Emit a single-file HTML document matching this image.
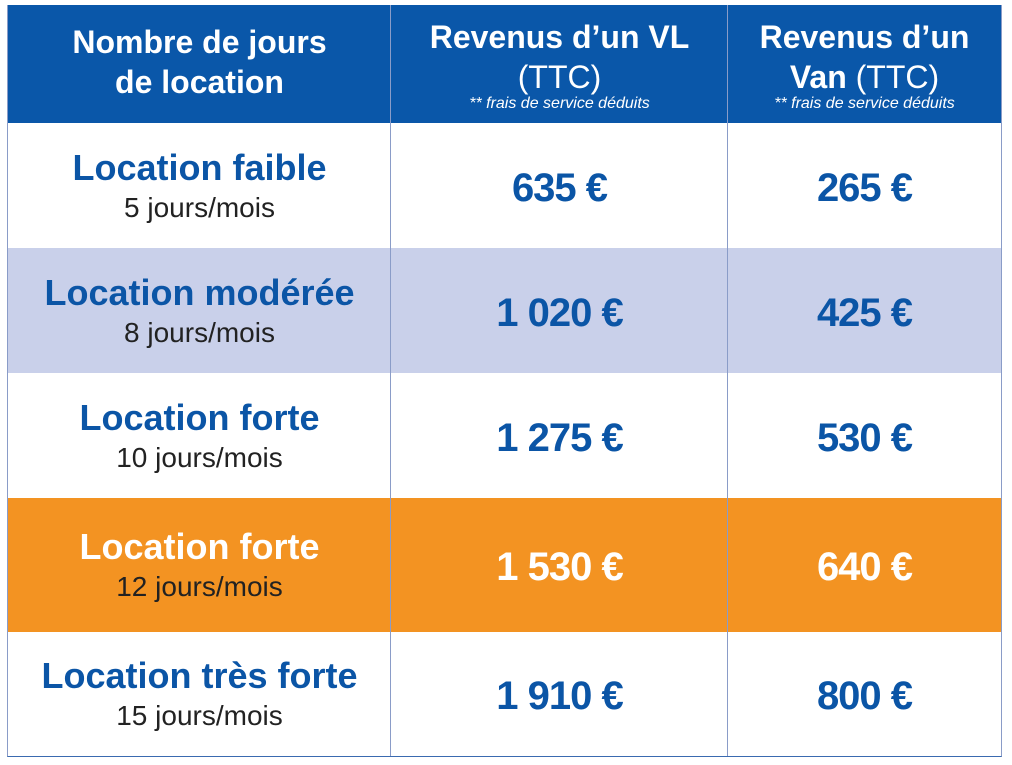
<!DOCTYPE html>
<html><head><meta charset="utf-8"><style>
body{margin:0;width:1012px;height:765px;background:#fff;font-family:"Liberation Sans",sans-serif;overflow:hidden}
.t{position:absolute;left:7px;top:5px;width:995px;height:752px;border-left:1px solid #8a9cc8;border-right:1px solid #8a9cc8;border-bottom:1px solid #3a6ab0;box-sizing:border-box}
.r{position:absolute;left:0;width:100%}
.c{position:absolute;top:0;bottom:0;display:flex;flex-direction:column;align-items:center;justify-content:center;text-align:center}
.c1{left:0;width:383px}.c2{left:383px;width:337px}.c3{left:720px;width:273px}
.v{position:absolute;top:0;bottom:0;width:1px;background:#8a9cc8}
.h{color:#fff;font-weight:bold;font-size:32px;line-height:40px}
.n{font-size:16px;font-style:italic;line-height:14px}
.l{color:#0b55a6;font-weight:bold;font-size:36px;line-height:44px}
.d{color:#222;font-size:28px;line-height:36px}
.p{color:#0b55a6;font-weight:bold;font-size:40px;letter-spacing:-1px;padding-top:5px}
.o .l,.o .p{color:#fff}
</style></head><body>
<div class="t">
<div class="r" style="top:0;height:118px;background:#0a57a9">
<div class="c c1" style="padding-bottom:4px"><div class="h">Nombre de jours<br>de location</div></div>
<div class="c c2"><div class="h">Revenus d’un VL<br><span style="font-weight:normal">(TTC)</span></div><div class="n" style="color:#fff">** frais de service déduits</div></div>
<div class="c c3"><div class="h">Revenus d’un<br>Van <span style="font-weight:normal">(TTC)</span></div><div class="n" style="color:#fff">** frais de service déduits</div></div>
</div>
<div class="r" style="top:118px;height:125px">
<div class="c c1"><div class="l">Location faible</div><div class="d">5 jours/mois</div></div>
<div class="c c2"><div class="p">635 €</div></div><div class="c c3"><div class="p">265 €</div></div></div>
<div class="r" style="top:243px;height:125px;background:#c9d0ea">
<div class="c c1"><div class="l">Location modérée</div><div class="d">8 jours/mois</div></div>
<div class="c c2"><div class="p">1 020 €</div></div><div class="c c3"><div class="p">425 €</div></div></div>
<div class="r" style="top:368px;height:125px">
<div class="c c1"><div class="l">Location forte</div><div class="d">10 jours/mois</div></div>
<div class="c c2"><div class="p">1 275 €</div></div><div class="c c3"><div class="p">530 €</div></div></div>
<div class="r o" style="top:493px;height:134px;background:#f39322">
<div class="c c1"><div class="l">Location forte</div><div class="d">12 jours/mois</div></div>
<div class="c c2"><div class="p">1 530 €</div></div><div class="c c3"><div class="p">640 €</div></div></div>
<div class="r" style="top:627px;height:124px">
<div class="c c1"><div class="l">Location très forte</div><div class="d">15 jours/mois</div></div>
<div class="c c2"><div class="p">1 910 €</div></div><div class="c c3"><div class="p">800 €</div></div></div>
<div class="v" style="left:382px"></div><div class="v" style="left:719px"></div>
</div>
</body></html>
